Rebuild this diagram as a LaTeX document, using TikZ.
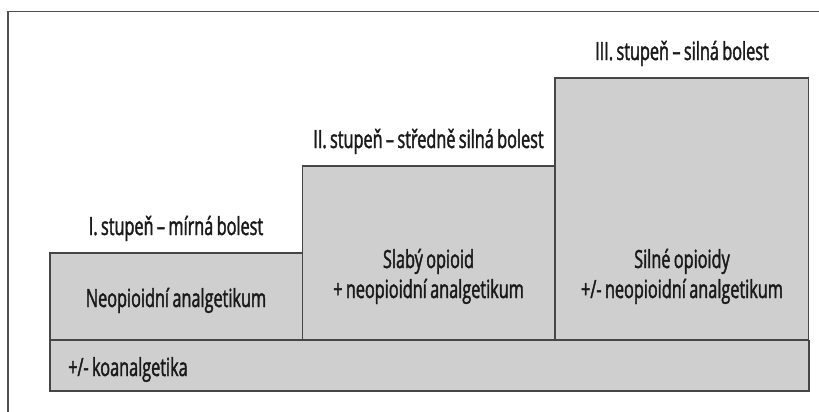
\documentclass[tikz,border=0pt]{standalone}
\usepackage{fontspec}
\setmainfont[FakeStretch=0.65, FakeBold=1.6, WordSpace=0.8]{Open Sans}
\begin{document}
\begin{tikzpicture}[x=1pt,y=-1pt,
  box/.style={draw=boxline, fill=boxfill, line width=1.3pt, inner sep=0pt, outer sep=0pt, anchor=north west},
  lbl/.style={font=\fontsize{25}{30}\selectfont, text=txt, inner sep=0pt, anchor=base}]
\definecolor{boxline}{HTML}{464646}
\definecolor{boxfill}{HTML}{CFCFCF}
\definecolor{frame}{HTML}{505050}
\definecolor{txt}{HTML}{1A1A1A}
\useasboundingbox[fill=white] (0,0) rectangle (819,412);
% open frame
\coordinate (fbl) at (8,412);
\coordinate (ftl) at (8,11.5);
\coordinate (ftr) at (819,11.5);
\draw[frame, line width=1.4pt] (fbl) -- (ftl) -- (ftr);
% boxes
\node[box, minimum width=252.5pt, minimum height=87pt] (b1) at (50,253) {};
\node[box, minimum width=252.5pt, minimum height=174pt] (b2) at (302.5,166) {};
\node[box, minimum width=253.5pt, minimum height=262pt] (b3) at (555,78) {};
\node[box, minimum width=758.5pt, minimum height=51pt] (co) at (50,340) {};
\draw[boxline, line width=2pt] (co.south west) -- (co.south east) -- (co.north east);
% step labels
\node[lbl] (l1) at (176,235) {I. stupeň – mírná bolest};
\node[lbl] (l2) at (428.5,148) {II. stupeň – středně silná bolest};
\node[lbl] (l3) at (682,60) {III. stupeň – silná bolest};
% box texts
\node[lbl] (t1) at (176,307) {Neopioidní analgetikum};
\node[lbl] (t2a) at (428.5,268) {Slabý opioid};
\node[lbl] (t2b) at (428.5,298) {+ neopioidní analgetikum};
\node[lbl] (t3a) at (682,268) {Silné opioidy};
\node[lbl] (t3b) at (682,298) {+/- neopioidní analgetikum};
\node[lbl, anchor=base west] (tc) at (68,376) {+/- koanalgetika};
\end{tikzpicture}
\end{document}
